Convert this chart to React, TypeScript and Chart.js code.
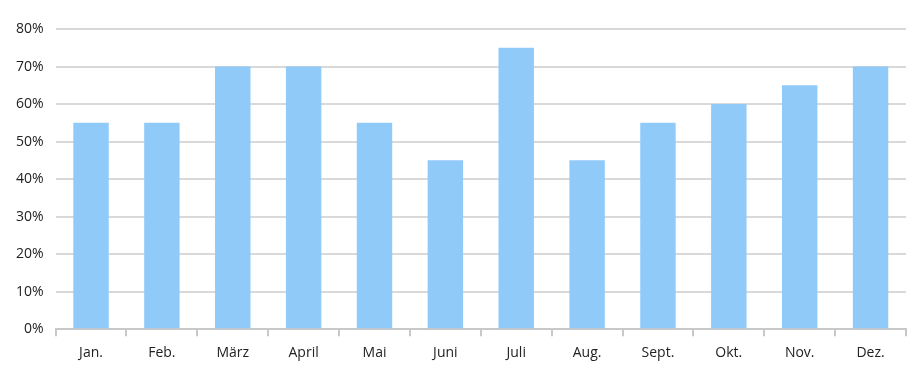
import React, { useEffect, useRef } from "react";
import { Chart, registerables } from "chart.js";

Chart.register(...registerables);

const months = ["Jan.", "Feb.", "März", "April", "Mai", "Juni", "Juli", "Aug.", "Sept.", "Okt.", "Nov.", "Dez."];
const values = [55, 55, 70, 70, 55, 45, 75, 45, 55, 60, 65, 70];
const yTicks = [0, 10, 20, 30, 40, 50, 60, 70, 80];

export default function App() {
  const ref = useRef<HTMLCanvasElement | null>(null);
  useEffect(() => {
    if (!ref.current) return;
    const chart = new Chart(ref.current, {
      type: "bar",
      data: {
        labels: months,
        datasets: [
          {
            data: values,
            backgroundColor: "#90CAF9",
            borderWidth: 0,
            barPercentage: 0.5,
            categoryPercentage: 1,
          },
        ],
      },
      options: {
        animation: false,
        responsive: false,
        maintainAspectRatio: false,
        layout: { padding: { top: 29, right: 16, bottom: 18, left: 4 } },
        plugins: { legend: { display: false }, tooltip: { enabled: false } },
        scales: {
          x: {
            offset: true,
            grid: {
              offset: true,
              drawOnChartArea: false,
              drawTicks: true,
              tickLength: 7,
              color: "#c8c8c8",
              lineWidth: 2,
            },
            border: { display: true, color: "#c8c8c8", width: 2 },
            ticks: { color: "#222", font: { family: "'Open Sans', 'DejaVu Sans', sans-serif", size: 14 }, padding: 8 },
          },
          y: {
            min: yTicks[0],
            max: yTicks[yTicks.length - 1],
            afterBuildTicks: (axis: any) => {
              axis.ticks = yTicks.map((v) => ({ value: v }));
            },
            grid: { color: "#d9d9d9", lineWidth: 2, drawTicks: false },
            border: { display: false },
            ticks: {
              color: "#222",
              font: { family: "'Open Sans', 'DejaVu Sans', sans-serif", size: 14 },
              padding: 12,
              callback: (v: any) => v + "%",
            },
          },
        },
      },
    });
    return () => chart.destroy();
  }, []);
  return (
    <div style={{ position: "fixed", left: 0, top: 0, width: 922, height: 387, background: "#fff" }}>
      <canvas ref={ref} width={922} height={387} style={{ display: "block" }} />
    </div>
  );
}
